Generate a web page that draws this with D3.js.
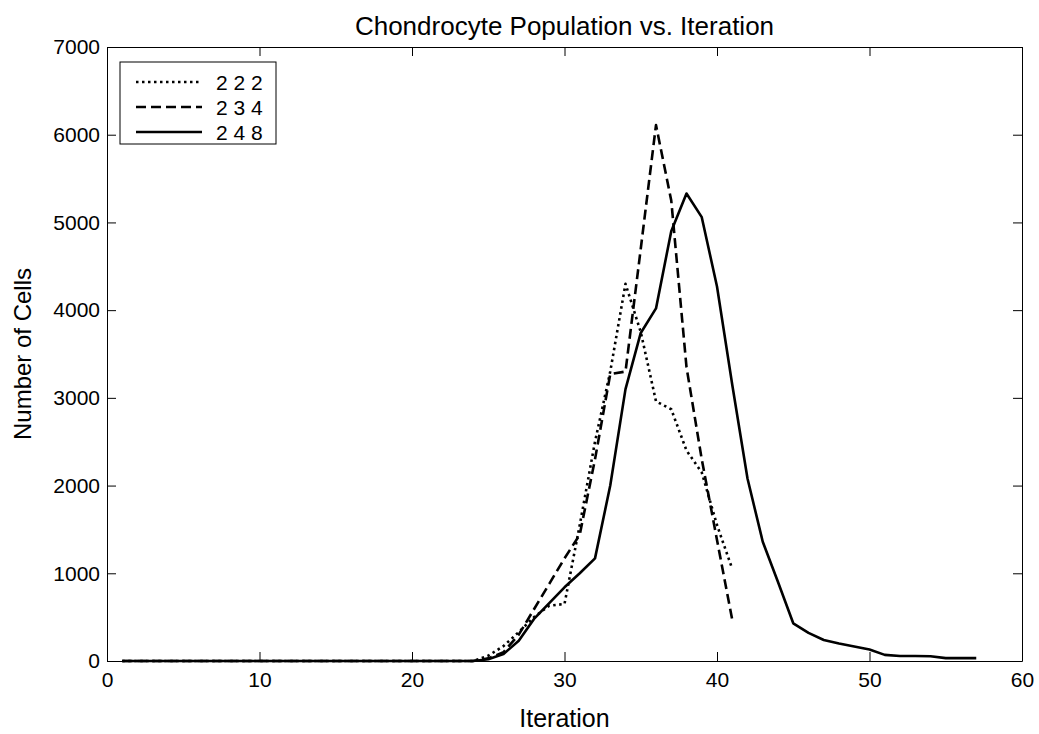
<!DOCTYPE html>
<html>
<head>
<meta charset="utf-8">
<script src="https://cdn.jsdelivr.net/npm/d3@7"></script>
<style>
  body { margin: 0; background: #fff; }
  text { font-family: "Liberation Sans", Arial, sans-serif; fill: #000; }
</style>
</head>
<body>
<div id="container"></div>
<script>
/* CONSTANTS AND GLOBALS */
const width = 1039,
  height = 734,
  margin = { top: 47, right: 17, bottom: 73, left: 107 };

// iteration 1..24 are all zero for every run
const zeros = new Array(24).fill(0);

const series222 = zeros.concat([60, 170, 330, 500, 630, 650, 1550, 2500, 3300, 4300, 3750, 2960, 2870, 2400, 2150, 1550, 1050]);
const series234 = zeros.concat([30, 100, 300, 590, 880, 1170, 1440, 2300, 3270, 3300, 4700, 6110, 5250, 3350, 2300, 1380, 470]);
const series248 = zeros.concat([20, 80, 230, 480, 660, 840, 1000, 1170, 2000, 3100, 3740, 4020, 4900, 5330, 5060, 4270, 3150, 2080, 1360, 900, 430, 320, 240, 200, 165, 130, 70, 57, 57, 55, 33, 33, 33]);

const seriesNames = ["2 2 2", "2 3 4", "2 4 8"];
const seriesValues = [series222, series234, series248];
const dashes = ["2.5,3.5", "10,5", null];

const xTicks = [0, 10, 20, 30, 40, 50, 60];
const yTicks = [0, 1000, 2000, 3000, 4000, 5000, 6000, 7000];

const svg = d3.select("#container")
  .append("svg")
  .attr("width", width)
  .attr("height", height);

const xScale = d3.scaleLinear()
  .domain([0, 60])
  .range([margin.left, width - margin.right]);

const yScale = d3.scaleLinear()
  .domain([0, 7000])
  .range([height - margin.bottom, margin.top]);

// axes, MATLAB style: ticks inside, on all four sides
const tickLen = 9;
const axisStyle = g => {
  g.select(".domain").attr("stroke", "#000");
  g.selectAll(".tick line").attr("stroke", "#000");
  g.selectAll(".tick text").attr("font-size", 21).attr("font-family", "Liberation Sans, Arial, sans-serif");
};

svg.append("g")
  .attr("transform", `translate(0, ${height - margin.bottom})`)
  .call(d3.axisBottom(xScale).tickValues(xTicks).tickFormat(d3.format("d")).tickSize(-tickLen).tickPadding(11).tickSizeOuter(0))
  .call(axisStyle);

svg.append("g")
  .attr("transform", `translate(0, ${margin.top})`)
  .call(d3.axisTop(xScale).tickValues(xTicks).tickSize(-tickLen).tickFormat("").tickSizeOuter(0))
  .call(axisStyle);

svg.append("g")
  .attr("transform", `translate(${margin.left}, 0)`)
  .call(d3.axisLeft(yScale).tickValues(yTicks).tickFormat(d3.format("d")).tickSize(-tickLen).tickPadding(7).tickSizeOuter(0))
  .call(axisStyle);

svg.append("g")
  .attr("transform", `translate(${width - margin.right}, 0)`)
  .call(d3.axisRight(yScale).tickValues(yTicks).tickSize(-tickLen).tickFormat("").tickSizeOuter(0))
  .call(axisStyle);

// lines
const line = d3.line()
  .x((d, i) => xScale(i + 1))
  .y(d => yScale(d));

svg.selectAll(".series")
  .data(seriesValues)
  .join("path")
  .attr("class", "series")
  .attr("fill", "none")
  .attr("stroke", "#000")
  .attr("stroke-width", 2.6)
  .attr("stroke-linejoin", "round")
  .attr("stroke-dasharray", (d, i) => dashes[i])
  .attr("d", line);

// titles
svg.append("text")
  .attr("x", (margin.left + width - margin.right) / 2)
  .attr("y", 35)
  .attr("text-anchor", "middle")
  .attr("font-size", 26)
  .text("Chondrocyte Population vs. Iteration");

svg.append("text")
  .attr("x", (margin.left + width - margin.right) / 2)
  .attr("y", 727)
  .attr("text-anchor", "middle")
  .attr("font-size", 25)
  .text("Iteration");

svg.append("text")
  .attr("transform", `translate(31, ${(margin.top + height - margin.bottom) / 2}) rotate(-90)`)
  .attr("text-anchor", "middle")
  .attr("font-size", 24)
  .text("Number of Cells");

// legend
const legend = svg.append("g").attr("transform", "translate(120, 62)");
legend.append("rect")
  .attr("width", 156)
  .attr("height", 82)
  .attr("fill", "#fff")
  .attr("stroke", "#000");

const rows = legend.selectAll(".row")
  .data(seriesNames)
  .join("g")
  .attr("class", "row")
  .attr("transform", (d, i) => `translate(0, ${20 + i * 25})`);

rows.append("line")
  .attr("x1", 16).attr("x2", 82)
  .attr("stroke", "#000")
  .attr("stroke-width", 2.6)
  .attr("stroke-dasharray", (d, i) => dashes[i]);

rows.append("text")
  .attr("x", 96)
  .attr("y", 8)
  .attr("font-size", 21)
  .text(d => d);
</script>
</body>
</html>
